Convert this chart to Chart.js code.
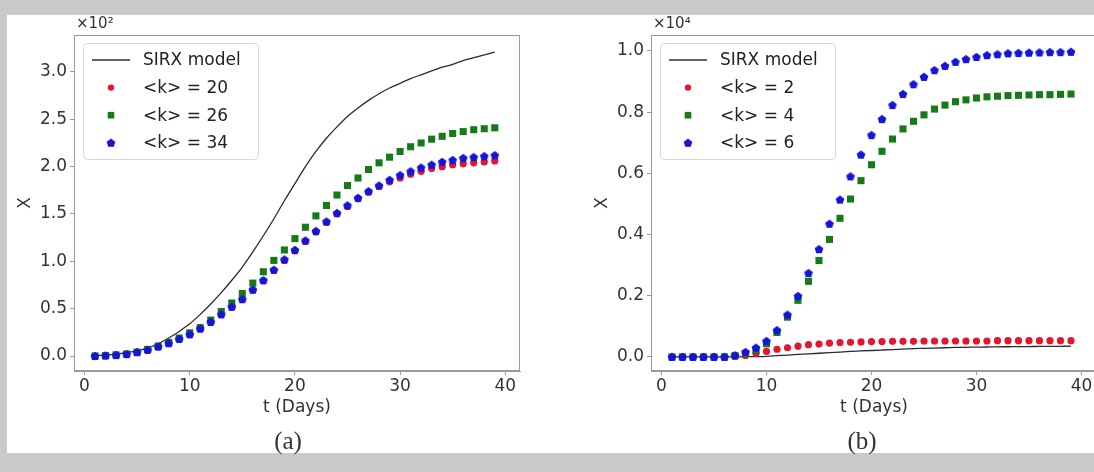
<!DOCTYPE html>
<html>
<head>
<meta charset="utf-8">
<script src="https://cdn.jsdelivr.net/npm/chart.js@4.4.1/dist/chart.umd.min.js"></script>
<style>
  html, body { margin: 0; padding: 0; overflow: hidden; width: 1094px; height: 472px; background: #c9c9c9; }
  #sheet { position: absolute; left: 7px; top: 15px; width: 1200px; height: 438px; background: #fff; }
  canvas { position: absolute; top: 0; }
  #chartA { left: 0; }
  #chartB { left: 547px; }
  .cap { position: absolute; top: 427px; line-height: 30px; font: 25px "Liberation Serif", serif; color: #333; transform: translateX(-50%); }
</style>
</head>
<body>
<div id="sheet"></div>
<canvas id="chartA" width="547" height="472"></canvas>
<canvas id="chartB" width="570" height="472"></canvas>
<div class="cap" style="left:288px">(a)</div>
<div class="cap" style="left:862px">(b)</div>

<script>
// ---- data ----
const DAYS = [1, 2, 3, 4, 5, 6, 7, 8, 9, 10, 11, 12, 13, 14, 15, 16, 17, 18, 19, 20,
  21, 22, 23, 24, 25, 26, 27, 28, 29, 30, 31, 32, 33, 34, 35, 36, 37, 38, 39];

// panel (a), values in units of 10^2
const SIRX_A = [0.005, 0.01, 0.02, 0.035, 0.055, 0.085, 0.13, 0.19, 0.26, 0.34,
  0.44, 0.55, 0.67, 0.80, 0.94, 1.10, 1.27, 1.45, 1.64, 1.82,
  2.00, 2.16, 2.30, 2.42, 2.53, 2.62, 2.70, 2.77, 2.83, 2.88,
  2.93, 2.97, 3.01, 3.05, 3.08, 3.12, 3.15, 3.18, 3.21];
const K20 = [0.0, 0.004, 0.009, 0.019, 0.038, 0.062, 0.097, 0.132, 0.176, 0.226,
  0.286, 0.356, 0.436, 0.516, 0.596, 0.695, 0.795, 0.905, 1.01, 1.11,
  1.21, 1.31, 1.41, 1.50, 1.58, 1.66, 1.73, 1.79, 1.84, 1.88,
  1.92, 1.95, 1.98, 2.00, 2.02, 2.03, 2.04, 2.05, 2.06];
const K26 = [0.0, 0.005, 0.012, 0.022, 0.042, 0.07, 0.105, 0.145, 0.19, 0.245,
  0.30, 0.38, 0.47, 0.56, 0.66, 0.77, 0.89, 1.01, 1.12, 1.24,
  1.36, 1.48, 1.59, 1.70, 1.80, 1.88, 1.97, 2.04, 2.10, 2.16,
  2.21, 2.25, 2.29, 2.32, 2.35, 2.37, 2.39, 2.40, 2.41];
const K34 = [0.0, 0.005, 0.01, 0.02, 0.04, 0.065, 0.1, 0.135, 0.18, 0.23,
  0.29, 0.36, 0.44, 0.52, 0.60, 0.70, 0.80, 0.91, 1.02, 1.12,
  1.22, 1.32, 1.42, 1.51, 1.59, 1.67, 1.74, 1.80, 1.86, 1.91,
  1.95, 1.99, 2.02, 2.05, 2.07, 2.09, 2.10, 2.11, 2.12];

// panel (b), values in units of 10^4
const SIRX_B = [0, 0, 0, 0, 0, 0, 0, 0.0005, 0.001, 0.002,
  0.004, 0.006, 0.008, 0.010, 0.012, 0.014, 0.016, 0.018, 0.0195, 0.021,
  0.0225, 0.024, 0.0255, 0.027, 0.028, 0.029, 0.030, 0.031, 0.0315, 0.032,
  0.0325, 0.033, 0.0333, 0.0336, 0.0339, 0.0342, 0.0345, 0.0347, 0.035];
const K2 = [0, 0, 0, 0, 0, 0, 0.002, 0.005, 0.011, 0.018,
  0.025, 0.030, 0.035, 0.040, 0.042, 0.045, 0.047, 0.048, 0.049, 0.050,
  0.050, 0.051, 0.051, 0.051, 0.052, 0.052, 0.052, 0.052, 0.052, 0.052,
  0.052, 0.053, 0.053, 0.053, 0.053, 0.053, 0.053, 0.053, 0.053];
const K4 = [0, 0, 0, 0, 0, 0, 0.004, 0.011, 0.022, 0.043,
  0.08, 0.13, 0.185, 0.247, 0.315, 0.384, 0.453, 0.516, 0.576, 0.628,
  0.672, 0.712, 0.745, 0.77, 0.791, 0.81, 0.823, 0.834, 0.84, 0.846,
  0.85, 0.852, 0.854, 0.855, 0.856, 0.857, 0.857, 0.858, 0.859];
const K6 = [0, 0, 0, 0, 0, 0, 0.005, 0.016, 0.03, 0.052,
  0.087, 0.138, 0.199, 0.274, 0.352, 0.435, 0.514, 0.59, 0.661, 0.725,
  0.777, 0.823, 0.859, 0.891, 0.915, 0.937, 0.951, 0.964, 0.973, 0.98,
  0.986, 0.989, 0.992, 0.993, 0.994, 0.995, 0.996, 0.996, 0.997];

const X_TICKS = [0, 10, 20, 30, 40];
const Y_TICKS_A = [0, 0.5, 1.0, 1.5, 2.0, 2.5, 3.0];
const Y_TICKS_B = [0, 0.2, 0.4, 0.6, 0.8, 1.0];

// ---- styles ----
const FONT = "'DejaVu Sans', sans-serif";
const TXT = "#333";
const SPINE = "#9a9a9a";
const RED = "#e5152d";
const GREEN = "#167a16";
const BLUE = "#1515d8";
const LINE = "#2b2b2b";

// matplotlib-like pentagon marker
function pentagon(color, r) {
  const c = document.createElement("canvas");
  const s = Math.ceil(r * 2) + 2;
  c.width = c.height = s;
  const g = c.getContext("2d");
  g.fillStyle = color;
  g.beginPath();
  for (let i = 0; i < 5; i++) {
    const a = -Math.PI / 2 + i * 2 * Math.PI / 5;
    g.lineTo(s / 2 + r * Math.cos(a), s / 2 + r * Math.sin(a) + 0.4);
  }
  g.closePath();
  g.fill();
  return c;
}
const BLUE_P = pentagon(BLUE, 4.6);

function points(ys) {
  return DAYS.map((d, i) => ({ x: d, y: ys[i] }));
}

function makeDatasets(line, s1, s2, s3, labels) {
  return [
    { label: labels[0], data: points(line), showLine: true, pointRadius: 0,
      borderColor: LINE, borderWidth: 1.3, cubicInterpolationMode: "monotone", order: 4 },
    { label: labels[1], data: points(s1), pointStyle: "circle", pointRadius: 3.6,
      backgroundColor: RED, borderWidth: 0, order: 3 },
    { label: labels[2], data: points(s2), pointStyle: "rect", pointRadius: 5,
      backgroundColor: GREEN, borderWidth: 0, order: 2 },
    { label: labels[3], data: points(s3), pointStyle: BLUE_P, pointRadius: 4.6,
      backgroundColor: BLUE, borderWidth: 0, order: 1 }
  ];
}

// spines, legend, axis titles and the x10^n offset text
const decor = {
  id: "decor",
  afterDraw(chart, args, o) {
    const { ctx, chartArea: a } = chart;
    ctx.save();
    ctx.strokeStyle = SPINE;
    ctx.lineWidth = 1;
    ctx.strokeRect(a.left + 0.5, a.top + 0.5, a.right - a.left - 1, a.bottom - a.top - 1);

    // legend box
    const x0 = a.left + 9, y0 = a.top + 8;
    ctx.beginPath();
    ctx.roundRect(x0 + 0.5, y0 + 0.5, 175, 116, 4);
    ctx.fillStyle = "rgba(255,255,255,0.85)";
    ctx.fill();
    ctx.strokeStyle = "#d8d8d8";
    ctx.stroke();

    ctx.font = "17px " + FONT;
    ctx.textBaseline = "middle";
    ctx.textAlign = "left";
    chart.data.datasets.forEach((d, i) => {
      const y = y0 + 17 + i * 27.6;
      const mx = x0 + 28;
      if (d.showLine) {
        ctx.strokeStyle = d.borderColor;
        ctx.lineWidth = 1.3;
        ctx.beginPath();
        ctx.moveTo(x0 + 9, y);
        ctx.lineTo(x0 + 47, y);
        ctx.stroke();
      } else if (d.pointStyle === "circle") {
        ctx.fillStyle = d.backgroundColor;
        ctx.beginPath();
        ctx.arc(mx, y, 3.2, 0, Math.PI * 2);
        ctx.fill();
      } else if (d.pointStyle === "rect") {
        ctx.fillStyle = d.backgroundColor;
        ctx.fillRect(mx - 3.3, y - 3.3, 6.6, 6.6);
      } else {
        const img = d.pointStyle;
        ctx.drawImage(img, mx - img.width / 2, y - img.height / 2);
      }
      ctx.fillStyle = "#222";
      ctx.fillText(d.label, x0 + 60, y + 1);
    });

    // axis titles
    ctx.fillStyle = TXT;
    ctx.textAlign = "center";
    ctx.fillText("t (Days)", o.midX || (a.left + a.right) / 2, a.bottom + 37);
    ctx.save();
    ctx.translate(a.left - 48, (a.top + a.bottom) / 2);
    ctx.rotate(-Math.PI / 2);
    ctx.fillText("X", 0, 0);
    ctx.restore();

    // offset text
    ctx.textAlign = "left";
    ctx.font = "15px " + FONT;
    ctx.fillText(o.offset, a.left + 2, a.top - 11);
    ctx.restore();
  }
};

function makeChart(id, datasets, xMax, yMin, yMax, yTicks, yWidth, padRight, offset, midX) {
  return new Chart(document.getElementById(id), {
    type: "scatter",
    data: { datasets },
    options: {
      responsive: false,
      animation: false,
      events: [],
      layout: { padding: { top: 35, right: padRight, left: 0, bottom: 0 } },
      scales: {
        x: {
          type: "linear", min: -1.0, max: xMax,
          afterFit: (s) => { s.height = 101; },
          afterBuildTicks: (s) => { s.ticks = X_TICKS.map((v) => ({ value: v })); },
          ticks: { color: TXT, font: { family: FONT, size: 17 }, padding: 1, maxRotation: 0,
            callback: (v) => String(v) },
          grid: { drawOnChartArea: false, tickLength: 4, color: SPINE },
          border: { color: SPINE, width: 1 }
        },
        y: {
          min: yMin, max: yMax,
          afterFit: (s) => { s.width = yWidth; },
          afterBuildTicks: (s) => { s.ticks = yTicks.map((v) => ({ value: v })); },
          ticks: { color: TXT, font: { family: FONT, size: 17 }, padding: 3,
            callback: (v) => Number(v).toFixed(1) },
          grid: { drawOnChartArea: false, tickLength: 4, color: SPINE },
          border: { color: SPINE, width: 1 }
        }
      },
      plugins: {
        legend: { display: false },
        tooltip: { enabled: false },
        decor: { offset, midX }
      }
    },
    plugins: [decor]
  });
}

makeChart("chartA",
  makeDatasets(SIRX_A, K20, K26, K34, ["SIRX model", "<k> = 20", "<k> = 26", "<k> = 34"]),
  41.4, -0.158, 3.39, Y_TICKS_A, 74, 27, "×10²", 0);

// right spine of (b) sits just past the page edge
makeChart("chartB",
  makeDatasets(SIRX_B, K2, K4, K6, ["SIRX model", "<k> = 2", "<k> = 4", "<k> = 6"]),
  42.05, -0.046, 1.052, Y_TICKS_B, 104, 14, "×10⁴", 874 - 547);
</script>
</body>
</html>
